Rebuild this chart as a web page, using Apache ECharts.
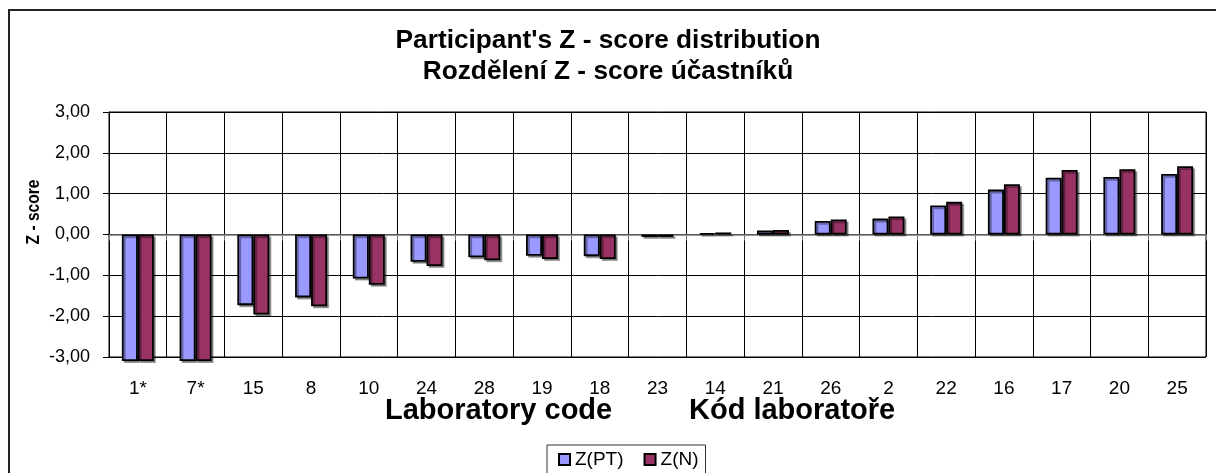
<!DOCTYPE html>
<html>
<head>
<meta charset="utf-8">
<script src="https://cdn.jsdelivr.net/npm/echarts@6/dist/echarts.min.js"></script>
<style>
  html, body { margin: 0; padding: 0; background: #fff; }
  #chart { width: 1216px; height: 473px; }
</style>
</head>
<body>
<div id="chart"></div>
<script>
const categories = ['1*', '7*', '15', '8', '10', '24', '28', '19', '18', '23', '14', '21', '26', '2', '22', '16', '17', '20', '25'];
const zPT = [-3.1, -3.1, -1.73, -1.54, -1.08, -0.67, -0.56, -0.52, -0.53, -0.06, 0.03, 0.10, 0.33, 0.39, 0.71, 1.10, 1.39, 1.41, 1.48];
const zN = [-3.1, -3.1, -1.96, -1.76, -1.23, -0.77, -0.63, -0.60, -0.60, -0.06, 0.05, 0.11, 0.37, 0.44, 0.80, 1.23, 1.58, 1.60, 1.67];
const seriesNames = ['Z(PT)', 'Z(N)'];
const colors = ['#9999FF', '#993366'];

const font = 'Arial, "Liberation Sans", sans-serif';

const chart = echarts.init(document.getElementById('chart'));

const barStyle = (c) => ({
  color: c,
  borderColor: '#000',
  borderWidth: 1.8,
  shadowColor: 'rgba(0,0,0,0.35)',
  shadowOffsetX: 2,
  shadowOffsetY: 2,
  shadowBlur: 0
});

chart.setOption({
  backgroundColor: '#fff',
  animation: false,
  grid: {
    left: 109, right: 10, top: 112, bottom: 116,
    show: true, borderColor: '#000', borderWidth: 1,
    outerBoundsMode: 'none'
  },
  legend: {
    data: seriesNames,
    left: 547, top: 445,
    icon: 'rect',
    itemWidth: 11, itemHeight: 11, itemGap: 20,
    padding: [5, 7, 40, 11],
    borderColor: '#333', borderWidth: 1,
    backgroundColor: '#fff',
    textStyle: { fontSize: 19, color: '#000', fontFamily: font }
  },
  xAxis: [
    {
      type: 'category',
      data: categories,
      position: 'bottom',
      axisLine: { show: false, onZero: false },
      axisTick: { show: false },
      axisLabel: { fontSize: 19, color: '#000', fontFamily: font, margin: 22, interval: 0 },
      splitLine: { show: true, lineStyle: { color: '#000', width: 1 } }
    },
    {
      type: 'category',
      data: categories,
      position: 'bottom',
      axisLine: { show: true, onZero: true, lineStyle: { color: '#777', width: 1.5 } },
      axisTick: { show: true, length: 6, lineStyle: { color: '#777' } },
      axisLabel: { show: false },
      splitLine: { show: false }
    }
  ],
  yAxis: {
    type: 'value',
    min: -3, max: 3, interval: 1,
    axisLine: { show: true, lineStyle: { color: '#000' } },
    axisTick: { show: true, length: 6, lineStyle: { color: '#000' } },
    axisLabel: {
      fontSize: 18, color: '#000', fontFamily: font, margin: 19,
      formatter: (v) => v.toFixed(2).replace('.', ',')
    },
    splitLine: { show: true, lineStyle: { color: '#000', width: 1 } }
  },
  series: [
    { name: seriesNames[0], type: 'bar', xAxisIndex: 1, data: zPT, barWidth: 16, barGap: '0%', clip: false, itemStyle: barStyle(colors[0]) },
    { name: seriesNames[1], type: 'bar', xAxisIndex: 1, data: zN, barWidth: 16, barGap: '0%', clip: false, itemStyle: barStyle(colors[1]) }
  ],
  graphic: [
    {
      type: 'rect', silent: true, z: -1,
      shape: { x: 9, y: 10, width: 1240, height: 500 },
      style: { fill: 'none', stroke: '#222', lineWidth: 2 }
    },
    {
      type: 'text', x: 608, y: 41, scaleX: 1.05,
      style: { text: "Participant's Z - score distribution", fontSize: 25, fontWeight: 'bold', fontFamily: font, fill: '#000', align: 'center', verticalAlign: 'middle' }
    },
    {
      type: 'text', x: 608, y: 72, scaleX: 1.05,
      style: { text: 'Rozdělení Z - score účastníků', fontSize: 25, fontWeight: 'bold', fontFamily: font, fill: '#000', align: 'center', verticalAlign: 'middle' }
    },
    {
      type: 'text', x: 385, y: 411,
      style: { text: 'Laboratory code', fontSize: 29, fontWeight: 'bold', fontFamily: font, fill: '#000', align: 'left', verticalAlign: 'middle' }
    },
    {
      type: 'text', x: 689, y: 411,
      style: { text: 'Kód laboratoře', fontSize: 29, fontWeight: 'bold', fontFamily: font, fill: '#000', align: 'left', verticalAlign: 'middle' }
    },
    {
      type: 'text', x: 34, y: 212, rotation: Math.PI / 2, scaleX: 0.82,
      style: { text: 'Z - score', fontSize: 19, fontWeight: 'bold', fontFamily: font, fill: '#000', align: 'center', verticalAlign: 'middle' }
    }
  ]
});
</script>
</body>
</html>
